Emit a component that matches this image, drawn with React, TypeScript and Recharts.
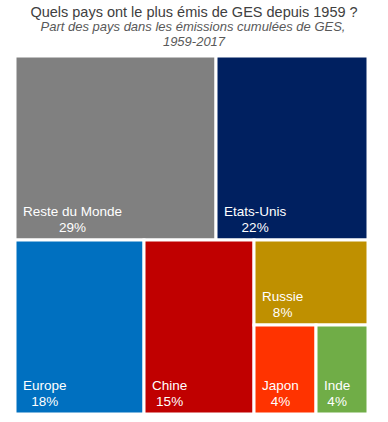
import { Treemap } from 'recharts';

const NAMES = ['Reste du Monde', 'Etats-Unis', 'Europe', 'Chine', 'Russie', 'Japon', 'Inde'];
const SHARES = [29.2, 22.3, 17.7, 15.2, 7.7, 4.4, 3.5];
const COLORS = ['#808080', '#002060', '#0070C0', '#C00000', '#BF9000', '#FF3300', '#70AD47'];

const TITLE = 'Quels pays ont le plus émis de GES depuis 1959 ?';
const SUBTITLE = ['Part des pays dans les émissions cumulées de GES,', '1959-2017'];

const data = NAMES.map((name, i) => ({ name, size: SHARES[i] }));

const LABEL_FONT = "13.5px 'Liberation Sans'";
let ctx: CanvasRenderingContext2D | null = null;
function textWidth(t: string) {
  if (!ctx) ctx = document.createElement('canvas').getContext('2d');
  if (!ctx) return t.length * 7;
  ctx.font = LABEL_FONT;
  return ctx.measureText(t).width;
}

function Block(props: any) {
  const { x, y, width, height, depth, index, name, value } = props;
  if (depth !== 1) return null;
  const lx = x + 8;
  const center = lx + textWidth(name) / 2;
  return (
    <g>
      <rect x={x} y={y} width={width} height={height} fill={COLORS[index % COLORS.length]} stroke="#fff" strokeWidth={3} />
      <text x={lx} y={y + height - 24} fill="#fff" fontFamily="'Liberation Sans'" fontSize={13.5}>
        {name}
      </text>
      <text x={center} y={y + height - 8.5} fill="#fff" fontFamily="'Liberation Sans'" fontSize={13.5} textAnchor="middle">
        {Math.round(value)}%
      </text>
    </g>
  );
}

export default function App() {
  return (
    <div style={{ position: 'absolute', left: 0, top: 0, width: 388, height: 422, fontFamily: "'Liberation Sans'" }}>
      <svg width={388} height={56} style={{ position: 'absolute', left: 0, top: 0 }}>
        <text x={194} y={17} textAnchor="middle" fontSize={14.5} fill="#404040">
          {TITLE}
        </text>
        <text x={193} y={31} textAnchor="middle" fontSize={13} fontStyle="italic" fill="#595959">
          {SUBTITLE[0]}
        </text>
        <text x={194} y={45.5} textAnchor="middle" fontSize={13} fontStyle="italic" fill="#595959">
          {SUBTITLE[1]}
        </text>
      </svg>
      <div style={{ position: 'absolute', left: 15, top: 56 }}>
        <Treemap
          width={353}
          height={358}
          data={data}
          dataKey="size"
          nameKey="name"
          aspectRatio={1}
          isAnimationActive={false}
          content={<Block />}
        />
      </div>
    </div>
  );
}
